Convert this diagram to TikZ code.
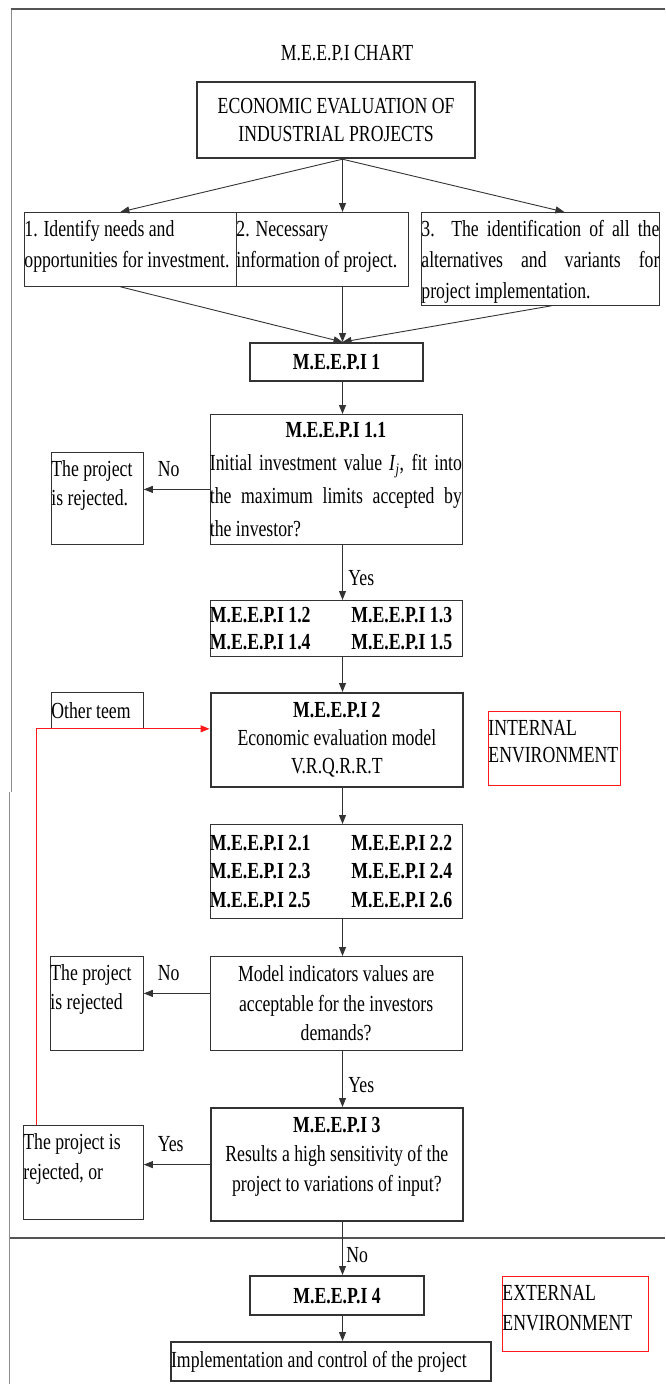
\documentclass[tikz,border=0pt]{standalone}
\usepackage{fontspec}
\setmainfont[FakeStretch=0.77]{Liberation Serif}
\usepackage{tikz}
\usetikzlibrary{arrows.meta,calc}
\definecolor{lineG}{HTML}{333333}
\definecolor{frameG}{HTML}{8C8C8C}
\definecolor{frameD}{HTML}{555555}
\definecolor{redL}{HTML}{FF1A1A}
% box contents: [alignment]{width}{height}{line skip}{text}
\newcommand\midbox[5][\centering]{\parbox[c][#3][c]{#2}{\fontsize{23}{#4}\selectfont#1 #5}}
\newcommand\topbox[5][\raggedright]{\parbox[c][#3][t]{#2}{\fontsize{23}{#4}\selectfont#1\rule{0pt}{24pt}#5}}

\begin{document}
\begin{tikzpicture}[x=1pt, y=-1pt,
  bx/.style={draw=lineG, line width=0.8pt, inner sep=0pt, anchor=north west},
  bbx/.style={bx, line width=2.2pt},
  rbx/.style={bx, draw=redL, line width=0.9pt},
  arr/.style={-{Triangle[length=9pt,width=7pt]}, draw=lineG, line width=0.9pt},
  lbl/.style={inner sep=0pt, font=\fontsize{23}{26}\selectfont},
]
\useasboundingbox (0,0) rectangle (665,1384);

% Frame of the chart
\draw[frameG, line width=1.6pt] (11.5,9) -- (11.5,792);
\draw[frameG, line width=1.6pt] (9.5,792) -- (9.5,1384);
\draw[frameD, line width=1.6pt] (10.7,9) -- (665,9);
\draw[frameD, line width=1.6pt] (9.5,1238) -- (665,1238);

% Title and top box
\node[font=\fontsize{23}{28}\selectfont] (title) at (347,53) {M.E.E.P.I CHART};
\node[bbx] (eeip) at (196,81) {\midbox{278pt}{76pt}{28pt}{ECONOMIC EVALUATION OF\\ INDUSTRIAL PROJECTS}};

% First row
\node[bx] (need) at (24,212) {\topbox{212pt}{74pt}{31pt}{1. Identify needs and\\ opportunities for investment.}};
\node[bx] (info) at (236,212) {\topbox{172pt}{74pt}{31pt}{2. Necessary\\ information of project.}};
\node[bx] (alts) at (421,212) {\topbox{238pt}{93pt}{31pt}{\makebox[238pt][s]{3. The identification of all the}\\ \makebox[238pt][s]{alternatives and variants for}\\ project implementation.}};

% Stage 1
\node[bbx] (m1) at (249,342) {\midbox{173pt}{38pt}{30pt}{\textbf{M.E.E.P.I 1}}};
\node[bx] (m11) at (209.5,414) {\midbox{252pt}{130pt}{33pt}{\textbf{M.E.E.P.I 1.1}\\
  \makebox[252pt][s]{Initial investment value \textit{I}\textsubscript{\textit{j}}, fit into}\\
  \makebox[252pt][s]{the maximum limits accepted by}\\
  \makebox[252pt][l]{the investor?}}};
\node[bx] (rej1) at (51,452) {\topbox{92pt}{92pt}{29pt}{The project\\ is rejected.}};
\node[bx] (m12) at (209.5,600) {\midbox[\raggedright]{252pt}{56pt}{27pt}{\bfseries
  \makebox[141.5pt][l]{M.E.E.P.I 1.2}M.E.E.P.I 1.3\\
  \makebox[141.5pt][l]{M.E.E.P.I 1.4}M.E.E.P.I 1.5}};

% Stage 2
\node[bbx] (m2) at (209.5,692) {\midbox{252.5pt}{94pt}{28pt}{\textbf{M.E.E.P.I 2}\\ Economic evaluation model\\ V.R.Q.R.R.T}};
\node[bx] (other) at (51,692) {\midbox[\raggedright]{92pt}{36pt}{28pt}{Other teem}};
\node[rbx] (intern) at (488,711) {\topbox{132pt}{74pt}{27pt}{INTERNAL\\ ENVIRONMENT}};
\node[bx] (m21) at (209.5,824) {\midbox[\raggedright]{252.5pt}{94pt}{28.5pt}{\bfseries
  \makebox[141.5pt][l]{M.E.E.P.I 2.1}M.E.E.P.I 2.2\\
  \makebox[141.5pt][l]{M.E.E.P.I 2.3}M.E.E.P.I 2.4\\
  \makebox[141.5pt][l]{M.E.E.P.I 2.5}M.E.E.P.I 2.6}};
\node[bx] (model) at (209.5,956) {\midbox{252.5pt}{94pt}{29.5pt}{Model indicators values are\\ acceptable for the investors\\ demands?}};
\node[bx] (rej2) at (50,956) {\topbox{93pt}{94pt}{29pt}{The project\\ is rejected}};

% Stage 3
\node[bbx] (m3) at (209.5,1107) {\topbox[\centering]{252.5pt}{113pt}{29.5pt}{\textbf{M.E.E.P.I 3}\\ Results a high sensitivity of the\\ project to variations of input?}};
\node[bx] (rej3) at (23,1125) {\topbox{120pt}{94pt}{30pt}{The project is\\ rejected, or}};

% Stage 4 (external)
\node[bbx] (m4) at (249,1275) {\midbox{174pt}{39pt}{30pt}{\textbf{M.E.E.P.I 4}}};
\node[rbx] (extern) at (502,1276) {\topbox{146pt}{75pt}{30pt}{EXTERNAL\\ ENVIRONMENT}};
\node[bbx] (impl) at (170,1341) {\midbox[\raggedright]{320pt}{39pt}{30pt}{Implementation and control of the project}};

% Connectors
\coordinate (spine) at (342.5,0);
\coordinate (redx) at (36.5,0);
\draw[arr] (eeip.south -| spine) -- ([xshift=-10pt]need.north);
\draw[arr] (eeip.south -| spine) -- (info.north -| spine);
\draw[arr] (eeip.south -| spine) -- ([xshift=24pt]alts.north);
\draw[arr] ([xshift=-10pt]need.south) -- (m1.north -| spine);
\draw[arr] (info.south -| spine) -- (m1.north -| spine);
\draw[arr] ([xshift=11pt]alts.south) -- (m1.north -| spine);

\draw[arr] (m1.south -| spine) -- (m11.north -| spine);
\draw[arr] (m11.south -| spine) -- node[lbl, pos=0.74, anchor=base west, xshift=5.5pt] (yes1) {Yes} (m12.north -| spine);
\draw[arr] (m12.south -| spine) -- (m2.north -| spine);
\draw[arr] (m2.south -| spine) -- (m21.north -| spine);
\draw[arr] (m21.south -| spine) -- (model.north -| spine);
\draw[arr] (model.south -| spine) -- node[lbl, pos=0.75, anchor=base west, xshift=5.5pt] (yes2) {Yes} (m3.north -| spine);
\draw[arr] (m3.south -| spine) -- node[lbl, pos=0.77, anchor=base west, xshift=3.5pt] (no3) {No} (m4.north -| spine);
\draw[arr] (m4.south -| spine) -- (impl.north -| spine);

% Rejections
\path ([yshift=-10pt]m11.west) coordinate (q1);
\draw[arr] (q1) -- node[lbl, pos=0.62, anchor=base, yshift=12.5pt] (no1) {No} (rej1.east |- q1);
\path ([yshift=10pt]model.west) coordinate (q2);
\draw[arr] (q2) -- node[lbl, pos=0.62, anchor=base, yshift=12.5pt] (no2) {No} (rej2.east |- q2);
\draw[arr] (m3.west) -- node[lbl, pos=0.59, anchor=base, yshift=13.5pt] (yes3) {Yes} (rej3.east |- m3.west);

% Feedback to stage 2
\draw[redL, line width=1.1pt, -{Triangle[length=9pt,width=7pt]}] (rej3.north -| redx) |- (m2.west |- other.south);
\end{tikzpicture}
\end{document}
